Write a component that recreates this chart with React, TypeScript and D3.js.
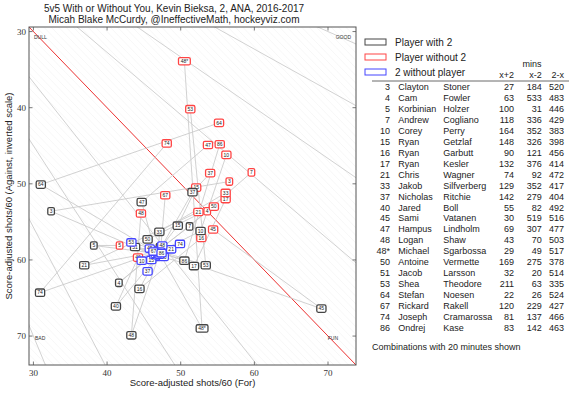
import React from "react";
import * as d3 from "d3";

const W = 575;
const H = 394;

// teammates, in table order
const jerseys = ["3", "4", "5", "7", "10", "15", "16", "17", "21", "33", "37", "40", "45", "47", "48", "48*", "50", "51", "53", "64", "67", "74", "86"];
const firstNames = ["Clayton", "Cam", "Korbinian", "Andrew", "Corey", "Ryan", "Ryan", "Ryan", "Chris", "Jakob", "Nicholas", "Jared", "Sami", "Hampus", "Logan", "Michael", "Antoine", "Jacob", "Shea", "Stefan", "Rickard", "Joseph", "Ondrej"];
const lastNames = ["Stoner", "Fowler", "Holzer", "Cogliano", "Perry", "Getzlaf", "Garbutt", "Kesler", "Wagner", "Silfverberg", "Ritchie", "Boll", "Vatanen", "Lindholm", "Shaw", "Sgarbossa", "Vermette", "Larsson", "Theodore", "Noesen", "Rakell", "Cramarossa", "Kase"];
const minsWith = [27, 63, 100, 118, 164, 148, 90, 132, 74, 129, 142, 55, 30, 69, 43, 29, 169, 32, 211, 22, 120, 81, 83];
const minsWithout = [184, 533, 31, 336, 352, 326, 121, 376, 92, 352, 279, 82, 519, 307, 70, 49, 275, 20, 63, 26, 229, 137, 142];
const minsTwoWithout = [520, 483, 446, 429, 383, 398, 456, 414, 472, 417, 404, 492, 516, 477, 503, 517, 378, 514, 335, 524, 427, 466, 463];

// shots/60 for and against: player with 2
const withFor = [32.4, 41.6, 38.2, 51.2, 52.7, 49.6, 44.4, 51.8, 36.9, 47.1, 51.6, 41.2, 69.1, 44.7, 43.3, 52.9, 45.5, 43.8, 53.4, 31.0, 47.3, 30.9, 50.5];
const withAgainst = [53.6, 63.0, 58.1, 55.6, 56.2, 55.5, 63.8, 60.8, 60.7, 56.3, 51.1, 66.1, 66.4, 52.4, 69.9, 69.0, 57.3, 58.3, 60.7, 50.1, 58.3, 64.3, 60.1];
// player without 2
const withoutFor = [56.6, 53.6, 41.7, 59.6, 56.2, 52.1, 52.8, 56.1, 52.4, 56.1, 54.0, 44.2, 54.4, 53.7, 44.6, 50.5, 54.5, 46.6, 51.3, 55.2, 47.9, 48.1, 55.3];
const withoutAgainst = [49.7, 53.6, 58.1, 48.5, 46.2, 50.5, 57.1, 52.0, 53.7, 51.2, 48.6, 59.7, 56.0, 44.9, 53.9, 33.9, 53.0, 58.8, 40.2, 42.0, 51.5, 44.7, 44.8];
// 2 without player
const twoWithoutFor = [46.9, 46.5, 47.2, 46.8, 44.7, 46.0, 47.3, 46.4, 48.7, 47.0, 45.5, 46.9, 45.8, 46.6, 47.5, 47.0, 47.7, 47.1, 43.3, 46.9, 46.3, 49.9, 47.4];
const twoWithoutAgainst = [59.6, 59.0, 59.2, 58.8, 60.1, 60.0, 58.7, 59.3, 58.6, 59.0, 61.5, 59.4, 58.5, 59.2, 58.1, 58.9, 59.6, 59.3, 57.7, 59.1, 58.9, 57.9, 59.1];

const cfPercents = [30, 35, 40, 45, 55, 60, 65, 70];
const ticks = [30, 40, 50, 60, 70];
const legendLabels = ["Player with 2", "Player without 2", "2 without player"];
const legendColors = ["#444", "#f44", "#44f"];

const FONT = "'Liberation Sans', Arial, sans-serif";

const Box = ({ x, y, label, color }) => {
  const w = label.length * 2.6 + 4;
  const h = 7.4;
  return (
    <g>
      <rect x={x - w / 2} y={y - h / 2} width={w} height={h} rx={1.5} fill="#fff" stroke={color} strokeWidth={1.3} />
      <text x={x} y={y + 1.8} fontSize={5} textAnchor="middle" fill="#222" fontFamily={FONT}>{label}</text>
    </g>
  );
};

const App = () => {
  const left = 29, right = 356, top = 27, bottom = 365;
  const x = d3.scaleLinear().domain([29.4, 73.8]).range([left, right]);
  const y = d3.scaleLinear().domain([29.4, 73.8]).range([top, bottom]);

  const idx = d3.range(jerseys.length);
  const diffs = d3.range(-45, 46);

  const tableLeft = 372;
  const rowY = d3.scaleLinear().domain([0, jerseys.length - 1]).range([86.7, 327.7]);

  return (
    <svg width={W} height={H} style={{ position: "absolute", left: 0, top: 0, background: "#fff" }}>
      <defs>
        <clipPath id="plot">
          <rect x={left} y={top} width={right - left} height={bottom - top} />
        </clipPath>
      </defs>

      <text x={174} y={12} fontSize={10} textAnchor="middle" fill="#222" fontFamily={FONT}>
        5v5 With or Without You, Kevin Bieksa, 2, ANA, 2016-2017
      </text>
      <text x={174} y={23} fontSize={10} textAnchor="middle" fill="#222" fontFamily={FONT}>
        Micah Blake McCurdy, @IneffectiveMath, hockeyviz.com
      </text>

      <g clipPath="url(#plot)">
        {diffs.map((c) => (
          <line key={"d" + c} x1={x(0)} y1={y(-c)} x2={x(120)} y2={y(120 - c)} stroke="#f1f1f1" strokeWidth={0.6} />
        ))}
        {cfPercents.map((p) => (
          <line key={"p" + p} x1={x(0)} y1={y(0)} x2={x(120)} y2={y((120 * (100 - p)) / p)} stroke="#d2d2d2" strokeWidth={1} />
        ))}
        <line x1={x(0)} y1={y(0)} x2={x(120)} y2={y(120)} stroke="#e33" strokeWidth={1} />

        {idx.map((i) => (
          <g key={"l" + i}>
            <line x1={x(withFor[i])} y1={y(withAgainst[i])} x2={x(withoutFor[i])} y2={y(withoutAgainst[i])} stroke="#ccc" strokeWidth={0.9} />
            <line x1={x(withFor[i])} y1={y(withAgainst[i])} x2={x(twoWithoutFor[i])} y2={y(twoWithoutAgainst[i])} stroke="#ccc" strokeWidth={0.9} />
          </g>
        ))}
        {idx.map((i) => (
          <Box key={"r" + i} x={x(withoutFor[i])} y={y(withoutAgainst[i])} label={jerseys[i]} color="#f44" />
        ))}
        {idx.map((i) => (
          <Box key={"k" + i} x={x(withFor[i])} y={y(withAgainst[i])} label={jerseys[i]} color="#444" />
        ))}
        {idx.map((i) => (
          <Box key={"b" + i} x={x(twoWithoutFor[i])} y={y(twoWithoutAgainst[i])} label={jerseys[i]} color="#44f" />
        ))}

        <g fontSize={5} fill="#333" fontFamily={FONT}>
          <text x={left + 5} y={top + 12}>DULL</text>
          <text x={right - 5} y={top + 12} textAnchor="end">GOOD</text>
          <text x={left + 6} y={bottom - 25}>BAD</text>
          <text x={right - 18} y={bottom - 25} textAnchor="end">FUN</text>
        </g>
      </g>

      <rect x={left} y={top} width={right - left} height={bottom - top} fill="none" stroke="#555" strokeWidth={1} />
      {ticks.map((t) => (
        <g key={"t" + t} stroke="#555" strokeWidth={0.8}>
          <line x1={x(t)} x2={x(t)} y1={bottom} y2={bottom - 3.5} />
          <line x1={x(t)} x2={x(t)} y1={top} y2={top + 3.5} />
          <line x1={left} x2={left + 3.5} y1={y(t)} y2={y(t)} />
          <line x1={right} x2={right - 3.5} y1={y(t)} y2={y(t)} />
        </g>
      ))}
      {ticks.map((t) => (
        <g key={"tl" + t} fontSize={9} fill="#333" fontFamily="'Liberation Serif', 'DejaVu Serif', serif">
          <text x={x(t)} y={bottom + 11} textAnchor="middle">{t}</text>
          <text x={left - 3} y={y(t) + 3} textAnchor="end">{t}</text>
        </g>
      ))}

      <text x={(left + right) / 2} y={386} fontSize={9.5} textAnchor="middle" fill="#222" fontFamily={FONT}>
        Score-adjusted shots/60 (For)
      </text>
      <text transform={`translate(12,${(top + bottom) / 2}) rotate(-90)`} fontSize={9.5} textAnchor="middle" fill="#222" fontFamily={FONT}>
        Score-adjusted shots/60 (Against, inverted scale)
      </text>

      {legendLabels.map((lab, i) => (
        <g key={"lg" + i}>
          <rect x={365} y={39 + i * 15} width={21} height={6} fill="#fff" stroke={legendColors[i]} strokeWidth={1} />
          <text x={395} y={46 + i * 15} fontSize={10} fill="#222" fontFamily={FONT}>{lab}</text>
        </g>
      ))}

      <g fontSize={9} fill="#222" fontFamily={FONT}>
        <text x={532} y={67} textAnchor="middle">mins</text>
        <text x={514} y={78} textAnchor="end">x+2</text>
        <text x={541.7} y={78} textAnchor="end">x-2</text>
        <text x={564} y={78} textAnchor="end">2-x</text>
        <line x1={tableLeft} x2={569} y1={81} y2={81} stroke="#444" strokeWidth={0.8} />
        {idx.map((i) => (
          <g key={"row" + i}>
            <text x={390} y={rowY(i) + 3.3} textAnchor="end">{jerseys[i]}</text>
            <text x={398.3} y={rowY(i) + 3.3}>{firstNames[i]}</text>
            <text x={443.3} y={rowY(i) + 3.3}>{lastNames[i]}</text>
            <text x={514} y={rowY(i) + 3.3} textAnchor="end">{minsWith[i]}</text>
            <text x={541.7} y={rowY(i) + 3.3} textAnchor="end">{minsWithout[i]}</text>
            <text x={564} y={rowY(i) + 3.3} textAnchor="end">{minsTwoWithout[i]}</text>
          </g>
        ))}
        <text x={tableLeft} y={350}>Combinations with 20 minutes shown</text>
      </g>
    </svg>
  );
};

export default App;
